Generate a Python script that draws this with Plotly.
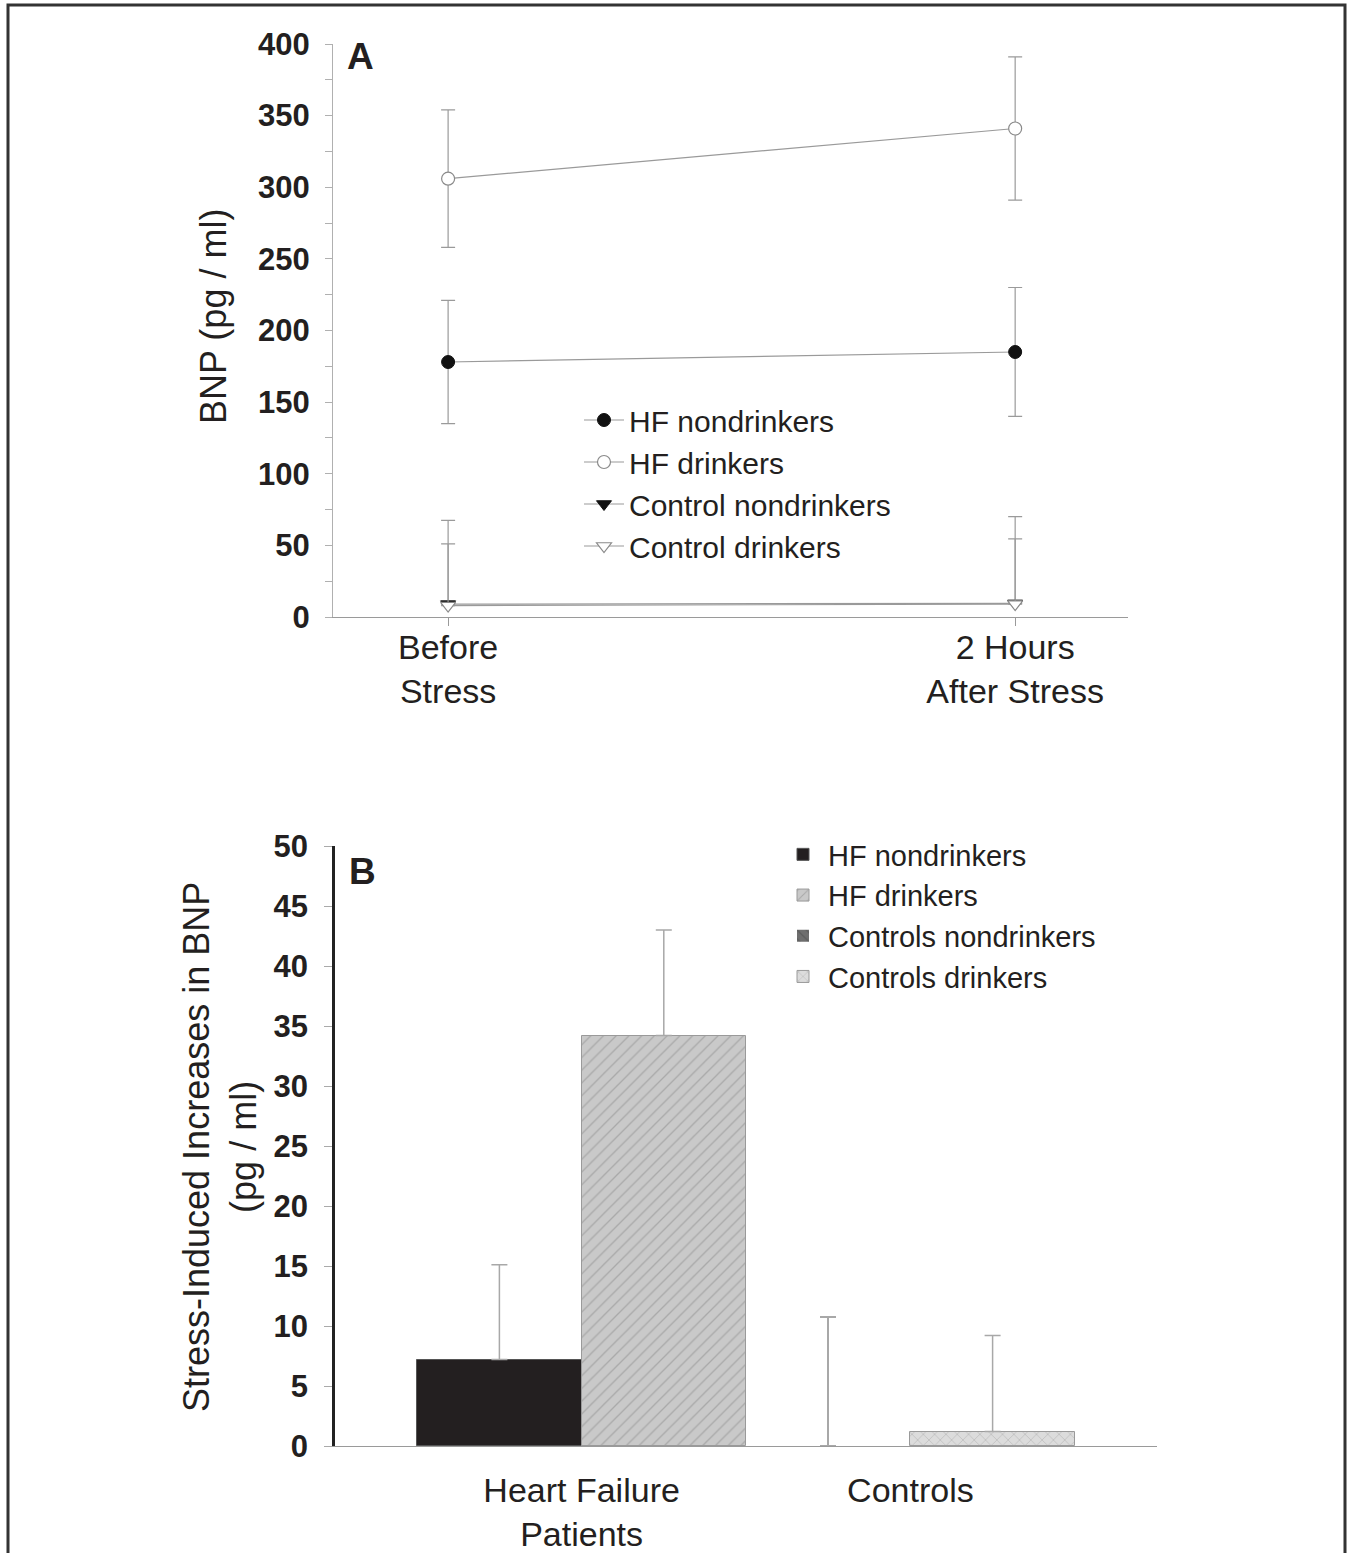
import plotly.graph_objects as go

W, H = 1353, 1553

# ---------------- Data ----------------
# Panel A: BNP over time
time_labels = ["Before<br>Stress", "2 Hours<br>After Stress"]
hf_nondrinkers = [178, 185]
hf_nondrinkers_err = [43, 45]
hf_drinkers = [306, 341]
hf_drinkers_err = [48, 50]
ctrl_nondrinkers = [9, 9.5]
ctrl_nondrinkers_err = [42, 45]
ctrl_drinkers = [8, 9]
ctrl_drinkers_err = [59.5, 61]

# Panel B: stress-induced increases in BNP
groups_b = ["Heart Failure<br>Patients", "Controls"]
b_names = ["HF nondrinkers", "HF drinkers", "Controls nondrinkers", "Controls drinkers"]
b_group = ["Heart Failure<br>Patients", "Heart Failure<br>Patients", "Controls", "Controls"]
b_values = [7.2, 34.2, 0.0, 1.2]
b_errors = [7.9, 8.8, 10.75, 8.0]

FONT = "Liberation Sans"
TXT = "#231f20"
GRAY = "#9a9a9a"

def px(x):
    return x / W

def py(y):
    return 1 - y / H

fig = go.Figure()

# ---------------- Panel A ----------------
a_series = [
    ("HF nondrinkers", hf_nondrinkers, hf_nondrinkers_err, True,
     dict(symbol="circle", size=13, color="#111111", line=dict(color="#111111", width=1))),
    ("HF drinkers", hf_drinkers, hf_drinkers_err, True,
     dict(symbol="circle", size=13, color="white", line=dict(color="#8a8a8a", width=1.2))),
    ("Control nondrinkers", ctrl_nondrinkers, ctrl_nondrinkers_err, False,
     dict(symbol="triangle-down", size=13, color="#111111", line=dict(color="#111111", width=1))),
    ("Control drinkers", ctrl_drinkers, ctrl_drinkers_err, False,
     dict(symbol="triangle-down", size=13, color="white", line=dict(color="#8a8a8a", width=1.2))),
]
for name, vals, errs, sym, mk in a_series:
    fig.add_trace(go.Scatter(
        x=time_labels, y=vals, name=name, mode="lines+markers",
        line=dict(color=GRAY, width=1.2), marker=mk,
        error_y=dict(type="data", array=errs, arrayminus=(errs if sym else [0] * len(errs)),
                     symmetric=False, color=GRAY, thickness=1.2, width=7),
        xaxis="x", yaxis="y", legend="legend", cliponaxis=False,
    ))

# ---------------- Panel B ----------------
b_styles = [
    dict(color="#231f20", line=dict(color="#555555", width=1)),
    dict(color="#c9c9c9", line=dict(color="#9a9a9a", width=1),
         pattern=dict(shape="/", fgcolor="#8a8a8a", size=9, solidity=0.15)),
    dict(color="#6e6e6e", line=dict(color="rgba(0,0,0,0)", width=0),
         pattern=dict(shape="\\", fgcolor="#4a4a4a", size=8, solidity=0.2)),
    dict(color="#dcdcdc", line=dict(color="#9a9a9a", width=1),
         pattern=dict(shape="x", fgcolor="#8f8f8f", size=8, solidity=0.15)),
]
offs = ["1", "2", "1", "2"]
for i in range(4):
    fig.add_trace(go.Bar(
        x=[b_group[i]], y=[b_values[i]], name=b_names[i],
        marker=b_styles[i], offsetgroup=offs[i],
        error_y=dict(type="data", array=[b_errors[i]], arrayminus=[0], symmetric=False,
                     color="#a8a8a8", thickness=1.5, width=8),
        xaxis="x2", yaxis="y2", legend="legend2",
    ))

tickfont_num = dict(family=FONT, size=31, color=TXT, weight="bold")
catfont = dict(family=FONT, size=34, color=TXT)

fig.update_layout(
    width=W, height=H,
    margin=dict(l=0, r=0, t=0, b=0),
    paper_bgcolor="white", plot_bgcolor="white",
    barmode="group", bargap=0, bargroupgap=0,
    font=dict(family=FONT, color=TXT),
    xaxis=dict(
        domain=[px(333), px(1128)], anchor="y",
        type="category", categoryorder="array", categoryarray=time_labels,
        range=[-0.203, 1.199],
        showline=True, linecolor=GRAY, linewidth=1.2,
        ticks="outside", ticklen=8, tickcolor=GRAY, tickwidth=1.2,
        tickfont=catfont, ticklabelstandoff=-8,
        showgrid=False, zeroline=False, automargin=False,
    ),
    yaxis=dict(
        domain=[py(617), py(44)], anchor="x",
        range=[0, 400], tickvals=[0, 50, 100, 150, 200, 250, 300, 350, 400],
        showline=True, linecolor="#b0b0b0", linewidth=1.2,
        ticks="outside", ticklen=7, tickcolor="#b0b0b0", tickwidth=1.2,
        minor=dict(tickvals=[25, 75, 125, 175, 225, 275, 325, 375], ticks="outside",
                   ticklen=7, tickcolor="#b0b0b0", tickwidth=1.2),
        tickfont=tickfont_num, ticklabelstandoff=9,
        showgrid=False, zeroline=False, automargin=False,
    ),
    xaxis2=dict(
        domain=[px(335), px(1157)], anchor="y2",
        type="category", categoryorder="array", categoryarray=groups_b,
        range=[-0.75, 1.75],
        showline=True, linecolor=GRAY, linewidth=1.2,
        ticks="", tickfont=catfont, ticklabelstandoff=14,
        showgrid=False, zeroline=False, automargin=False,
    ),
    yaxis2=dict(
        domain=[py(1446), py(846)], anchor="x2",
        range=[0, 50], dtick=5,
        showline=True, linecolor="#222222", linewidth=2.5,
        ticks="outside", ticklen=8, tickcolor="#aaaaaa", tickwidth=1.2,
        tickfont=tickfont_num, ticklabelstandoff=10,
        showgrid=False, zeroline=False, automargin=False,
    ),
    legend=dict(
        x=px(579), y=py(394), xanchor="left", yanchor="top",
        font=dict(family=FONT, size=30, color=TXT),
        bgcolor="rgba(0,0,0,0)", tracegroupgap=0, itemwidth=40,
    ),
    legend2=dict(
        x=px(778), y=py(829), xanchor="left", yanchor="top",
        font=dict(family=FONT, size=29, color=TXT),
        bgcolor="rgba(0,0,0,0)", tracegroupgap=0, itemwidth=40,
    ),
    showlegend=True,
)

# Axis titles and panel letters
fig.add_annotation(text="BNP (pg / ml)", textangle=-90, x=px(213), y=py(317),
                   xref="paper", yref="paper", xanchor="center", yanchor="middle",
                   showarrow=False, font=dict(family=FONT, size=36, color=TXT))
fig.add_annotation(text="Stress-Induced Increases in BNP<br>(pg / ml)", textangle=-90,
                   x=px(220), y=py(1147), xref="paper", yref="paper",
                   xanchor="center", yanchor="middle", showarrow=False,
                   font=dict(family=FONT, size=36, color=TXT))
fig.add_annotation(text="A", x=px(361), y=py(57), xref="paper", yref="paper",
                   xanchor="center", yanchor="middle", showarrow=False,
                   font=dict(family=FONT, size=37, color=TXT, weight="bold"))
fig.add_annotation(text="B", x=px(362), y=py(872), xref="paper", yref="paper",
                   xanchor="center", yanchor="middle", showarrow=False,
                   font=dict(family=FONT, size=37, color=TXT, weight="bold"))

# Figure frame
fig.add_shape(type="rect", xref="paper", yref="paper",
              x0=px(8), x1=px(1345), y0=-0.02, y1=py(5),
              line=dict(color="#333333", width=3), fillcolor="rgba(0,0,0,0)", layer="above")

fig.write_html("out.html", config={"displayModeBar": False},
               post_script="document.body.style.margin='0';document.body.style.overflow='hidden';")
